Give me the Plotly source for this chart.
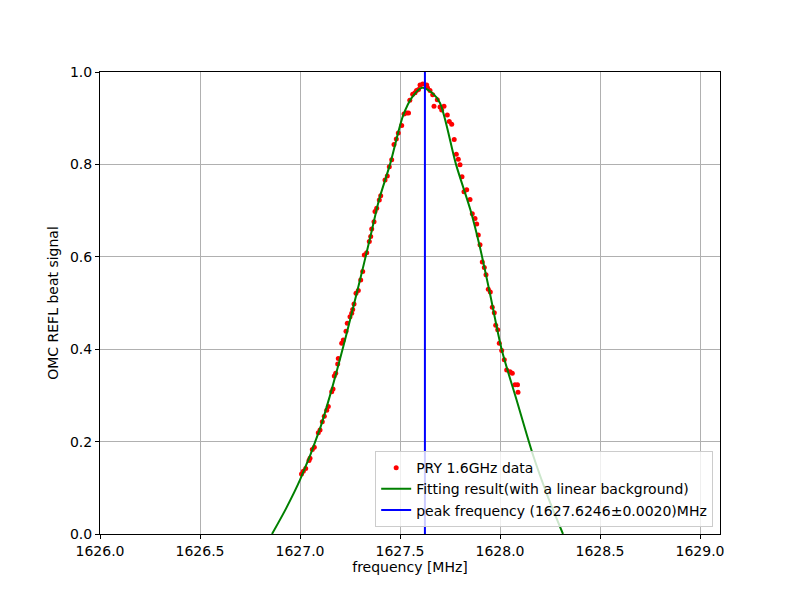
import plotly.graph_objects as go

# measured beat signal (PRY 1.6GHz)
freq_data = [
    1627.0075, 1627.0165, 1627.0285, 1627.045, 1627.050, 1627.0615, 1627.0715,
    1627.0915, 1627.100, 1627.1115, 1627.1215, 1627.1335, 1627.1415, 1627.1585,
    1627.165, 1627.1715, 1627.1785, 1627.1885, 1627.1915, 1627.2085, 1627.2165,
    1627.230, 1627.2365, 1627.250, 1627.2585, 1627.2635, 1627.270, 1627.280,
    1627.2915, 1627.3035, 1627.3135, 1627.3215, 1627.3335, 1627.3465, 1627.3535,
    1627.3585, 1627.370, 1627.375, 1627.3835, 1627.3965, 1627.4035, 1627.425,
    1627.4365, 1627.4465, 1627.4585, 1627.470, 1627.4815, 1627.4915, 1627.5085,
    1627.520, 1627.5335, 1627.5425, 1627.549, 1627.5635, 1627.575, 1627.5825,
    1627.5925, 1627.600, 1627.6135, 1627.6335, 1627.6375, 1627.650, 1627.6635,
    1627.670, 1627.6865, 1627.700, 1627.7085, 1627.720, 1627.7365, 1627.7465,
    1627.7585, 1627.771, 1627.7815, 1627.7915, 1627.800, 1627.810, 1627.820,
    1627.8335, 1627.850, 1627.8615, 1627.875, 1627.8835, 1627.8915, 1627.900,
    1627.9115, 1627.9215, 1627.930, 1627.9415, 1627.9515, 1627.9615, 1627.9715,
    1627.9785, 1627.9885, 1627.9965, 1628.0085, 1628.0215, 1628.0335, 1628.050,
    1628.0615, 1628.075, 1628.0875, 1628.090,
]
signal_data = [
    0.130, 0.136, 0.142, 0.159, 0.164, 0.183, 0.188,
    0.219, 0.225, 0.243, 0.255, 0.268, 0.276, 0.308,
    0.314, 0.342, 0.348, 0.368, 0.380, 0.413, 0.420,
    0.439, 0.456, 0.470, 0.478, 0.486, 0.498, 0.521,
    0.527, 0.550, 0.568, 0.604, 0.609, 0.633, 0.644,
    0.660, 0.676, 0.698, 0.705, 0.723, 0.732, 0.766,
    0.775, 0.795, 0.810, 0.843, 0.855, 0.868, 0.884,
    0.909, 0.911, 0.911, 0.939, 0.952, 0.955, 0.960,
    0.962, 0.972, 0.974, 0.972, 0.966, 0.960, 0.951,
    0.926, 0.940, 0.924, 0.918, 0.926, 0.907, 0.893,
    0.887, 0.854, 0.822, 0.811, 0.799, 0.773, 0.741,
    0.745, 0.724, 0.693, 0.683, 0.671, 0.647, 0.626,
    0.589, 0.577, 0.561, 0.530, 0.524, 0.491, 0.479,
    0.452, 0.442, 0.413, 0.397, 0.377, 0.355, 0.351,
    0.348, 0.323, 0.323, 0.307,
]

# fitted curve
freq_fit = [1626.86, 1626.93, 1627.00, 1627.10, 1627.15, 1627.225, 1627.30,
            1627.35, 1627.395, 1627.45, 1627.515, 1627.56, 1627.61, 1627.66,
            1627.70, 1627.78, 1627.853, 1627.90, 1627.95, 1628.008, 1628.083,
            1628.165, 1628.24, 1628.315]
signal_fit = [0.0, 0.055, 0.117, 0.228, 0.30, 0.42, 0.55,
              0.64, 0.723, 0.80, 0.905, 0.945, 0.966, 0.955,
              0.933, 0.80, 0.70, 0.62, 0.52, 0.40, 0.29,
              0.171, 0.08, 0.0]

peak_freq = 1627.6246
peak_err = 0.0020

x_ticks = [1626.0, 1626.5, 1627.0, 1627.5, 1628.0, 1628.5, 1629.0]
y_ticks = [0.0, 0.2, 0.4, 0.6, 0.8, 1.0]

fig = go.Figure()

fig.add_trace(go.Scatter(
    x=freq_data, y=signal_data, mode="markers",
    marker=dict(color="red", size=5),
    name="PRY 1.6GHz data",
))
fig.add_trace(go.Scatter(
    x=freq_fit, y=signal_fit, mode="lines",
    line=dict(color="green", width=2, shape="spline", smoothing=0.8),
    name="Fitting result(with a linear background)",
))
fig.add_trace(go.Scatter(
    x=[peak_freq, peak_freq], y=[0, 1], mode="lines",
    line=dict(color="blue", width=2),
    name=f"peak frequency ({peak_freq:.4f}\u00b1{peak_err:.4f})MHz",
))

axis_common = dict(
    showgrid=True, gridcolor="#b0b0b0", gridwidth=1,
    showline=True, linecolor="black", linewidth=1, mirror=True,
    ticks="outside", ticklen=4, tickcolor="black",
    zeroline=False, tickformat=".1f", automargin=False,
    tickfont=dict(size=14, color="black"),
    title_font=dict(size=14, color="black"),
)

fig.update_xaxes(range=[1626.0, 1629.1], tickvals=x_ticks,
                 title_text="frequency [MHz]", title_standoff=4, **axis_common)
fig.update_yaxes(range=[0, 1], tickvals=y_ticks,
                 title_text="OMC REFL beat signal", title_standoff=8, **axis_common)

# page body adds 8px, so margins are shifted to put the axes at 100..720 x 72..534
fig.update_layout(
    width=800, height=600,
    margin=dict(l=92, r=88, t=64, b=74),
    paper_bgcolor="white", plot_bgcolor="white",
    font=dict(family="DejaVu Sans", color="black"),
    legend=dict(
        x=0.989, y=0.015, xanchor="right", yanchor="bottom",
        bgcolor="rgba(255,255,255,0.8)", bordercolor="#cccccc", borderwidth=1,
        font=dict(size=14), tracegroupgap=0, itemwidth=30,
    ),
)

fig.write_html("out.html")
